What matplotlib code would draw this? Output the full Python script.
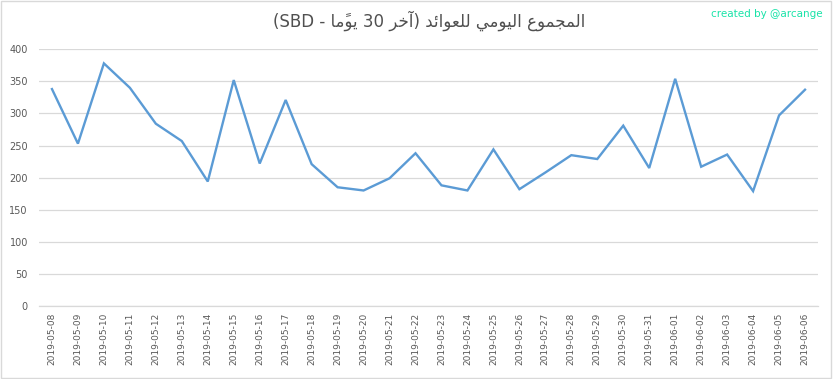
import matplotlib
matplotlib.use("Agg")
import matplotlib.pyplot as plt
from matplotlib.patches import Rectangle

dates = ["2019-05-08", "2019-05-09", "2019-05-10", "2019-05-11", "2019-05-12",
         "2019-05-13", "2019-05-14", "2019-05-15", "2019-05-16", "2019-05-17",
         "2019-05-18", "2019-05-19", "2019-05-20", "2019-05-21", "2019-05-22",
         "2019-05-23", "2019-05-24", "2019-05-25", "2019-05-26", "2019-05-27",
         "2019-05-28", "2019-05-29", "2019-05-30", "2019-05-31", "2019-06-01",
         "2019-06-02", "2019-06-03", "2019-06-04", "2019-06-05", "2019-06-06"]
rewards = [338, 253, 378, 340, 284, 257, 194, 352, 222, 321,
           221, 185, 180, 199, 238, 188, 180, 244, 182, 208,
           235, 229, 281, 215, 354, 217, 236, 179, 297, 337]
yticks = [0, 50, 100, 150, 200, 250, 300, 350, 400]

# formes contextuelles (isolée, finale, initiale, médiane)
FORMS = {
    'ا': ('\uFE8D', '\uFE8E', None, None),
    'آ': ('\uFE81', '\uFE82', None, None),
    'ل': ('\uFEDD', '\uFEDE', '\uFEDF', '\uFEE0'),
    'م': ('\uFEE1', '\uFEE2', '\uFEE3', '\uFEE4'),
    'ج': ('\uFE9D', '\uFE9E', '\uFE9F', '\uFEA0'),
    'و': ('\uFEED', '\uFEEE', None, None),
    'ع': ('\uFEC9', '\uFECA', '\uFECB', '\uFECC'),
    'ي': ('\uFEF1', '\uFEF2', '\uFEF3', '\uFEF4'),
    'ئ': ('\uFE89', '\uFE8A', '\uFE8B', '\uFE8C'),
    'د': ('\uFEA9', '\uFEAA', None, None),
    'خ': ('\uFEA5', '\uFEA6', '\uFEA7', '\uFEA8'),
    'ر': ('\uFEAD', '\uFEAE', None, None),
}


def shape_word(word):
    # groupes lettre + signes diacritiques
    clusters = []
    for ch in word:
        if ch in FORMS or not clusters:
            clusters.append([ch, ""])
        else:
            clusters[-1][1] += ch
    out = []
    for i, (ch, marks) in enumerate(clusters):
        prev_join = i > 0 and FORMS[clusters[i - 1][0]][2] is not None
        next_join = i < len(clusters) - 1 and FORMS[ch][2] is not None
        iso, fin, ini, med = FORMS[ch]
        if prev_join and next_join:
            g = med
        elif prev_join:
            g = fin
        elif next_join:
            g = ini
        else:
            g = iso
        out.append(g + marks)
    return "".join(reversed(out))


title = ("(SBD - " + shape_word("يومًا") + " 30 " + shape_word("آخر") + ") "
         + shape_word("للعوائد") + " " + shape_word("اليومي") + " "
         + shape_word("المجموع"))

fig = plt.figure(figsize=(8.33, 3.79), dpi=100)
ax = fig.add_axes([0.0468, 0.1926, 0.9352, 0.6774])

x = list(range(len(dates)))
ax.plot(x, rewards, color="#5B9BD5", linewidth=1.7, solid_joinstyle="miter")

ax.set_xlim(-0.5, len(dates) - 0.5)
ax.set_ylim(0, 400)
ax.set_yticks(yticks)
ax.set_xticks(x)
ax.set_xticklabels(dates, rotation=90)
ax.tick_params(axis="y", length=0, pad=8, labelsize=7, labelcolor="#595959")
ax.tick_params(axis="x", length=0, pad=5, labelsize=6.5, labelcolor="#595959")
ax.yaxis.grid(True, color="#D9D9D9", linewidth=0.9)
ax.axhline(0, color="#D9D9D9", linewidth=0.9, clip_on=False, zorder=0.5)
ax.set_axisbelow(True)
for s in ax.spines.values():
    s.set_visible(False)

fig.text(0.515, 0.945, title, ha="center", va="center", fontsize=12,
         color="#505050", family=["DejaVu Sans"])
fig.text(0.987, 0.963, "created by @arcange", ha="right", va="center",
         fontsize=7.5, color="#19E3A8")

fig.patches.append(Rectangle((0.001, 0.003), 0.997, 0.994, transform=fig.transFigure,
                             fill=False, edgecolor="#D9D9D9", linewidth=1))

fig.savefig("out.png", dpi=100)
